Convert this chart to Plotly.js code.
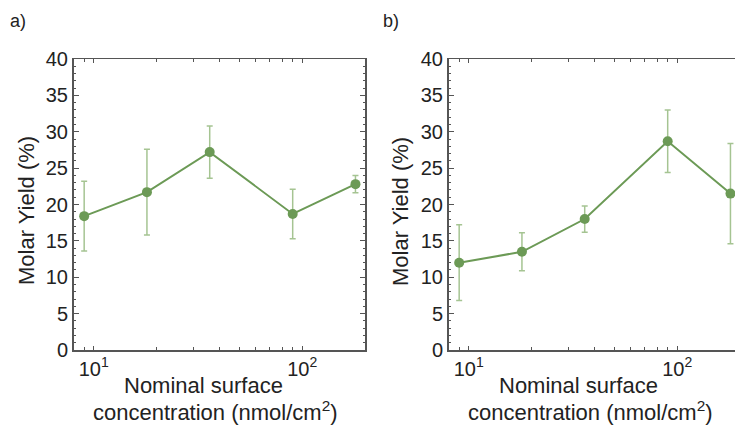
<!DOCTYPE html>
<html>
<head>
<meta charset="utf-8">
<script src="https://cdn.plot.ly/plotly-3.0.1.min.js"></script>
<style>
html, body { margin: 0; padding: 0; overflow: hidden; background: #fff; }
#chart { width: 742px; height: 429px; }
</style>
</head>
<body>
<div id="chart"></div>
<script>
// Data
const concentration = [9, 18, 36, 90, 180];      // nmol/cm^2
const yieldA = [18.4, 21.7, 27.2, 18.7, 22.8];   // panel a, %
const errA   = [4.8, 5.9, 3.6, 3.4, 1.2];
const yieldB = [12.0, 13.5, 18.0, 28.7, 21.5];   // panel b, %
const errB   = [5.2, 2.6, 1.8, 4.3, 6.9];
const xTickVals = [10, 100];
const xTickText = ['10<sup>1</sup>', '10<sup>2</sup>'];
const xMinorVals = [8, 9, 20, 30, 40, 50, 60, 70, 80, 90, 200];
const yTickVals = [0, 5, 10, 15, 20, 25, 30, 35, 40];
const panelLabels = ['a)', 'b)'];
const xTitleLines = ['Nominal surface', 'concentration (nmol/cm<sup>2</sup>)'];
const yTitle = 'Molar Yield (%)';

const lineColor = '#6c9a56';
const errColor = '#a5c492';
const frameColor = '#555555';
const textColor = '#222222';
const font = "'Liberation Sans', Arial, sans-serif";

function trace(y, err, xa, ya) {
  return {
    x: concentration, y: y, xaxis: xa, yaxis: ya,
    type: 'scatter', mode: 'lines+markers',
    line: { color: lineColor, width: 2 },
    marker: { color: lineColor, size: 10 },
    error_y: { type: 'data', array: err, visible: true, color: errColor, thickness: 1.5, width: 3 },
    showlegend: false, hoverinfo: 'skip'
  };
}

function xaxis(domain, anchor) {
  return {
    type: 'log', domain: domain, anchor: anchor,
    range: [Math.log10(8), Math.log10(200)],
    tickmode: 'array', tickvals: xTickVals, ticktext: xTickText,
    ticks: 'inside', ticklen: 4, tickwidth: 1.2, tickcolor: frameColor,
    minor: { tickmode: 'array', tickvals: xMinorVals, ticks: 'inside', ticklen: 3, tickcolor: frameColor, tickwidth: 1, showgrid: false },
    showline: true, linecolor: frameColor, linewidth: 1.5, mirror: 'allticks',
    showgrid: false, zeroline: false,
    tickfont: { family: font, size: 20, color: textColor },
    fixedrange: true
  };
}

function yaxis(domain, anchor) {
  return {
    domain: domain, anchor: anchor,
    range: [0, 40],
    tickmode: 'array', tickvals: yTickVals,
    ticks: 'inside', ticklen: 5, tickwidth: 1.2, tickcolor: frameColor,
    minor: { dtick: 1, ticks: 'inside', ticklen: 2.5, tickcolor: frameColor, tickwidth: 1, showgrid: false },
    showline: true, linecolor: frameColor, linewidth: 1.5, mirror: 'allticks',
    showgrid: false, zeroline: false,
    tickfont: { family: font, size: 20, color: textColor },
    fixedrange: true
  };
}

const W = 742, H = 429;
const yDom = [(H - 350) / H, (H - 59) / H];

function ann(text, x, y, size, angle) {
  return { text: text, xref: 'paper', yref: 'paper', x: x / W, y: 1 - y / H,
    xanchor: 'center', yanchor: 'middle', showarrow: false, textangle: angle || 0,
    font: { family: font, size: size, color: textColor } };
}

const data = [trace(yieldA, errA, 'x', 'y'), trace(yieldB, errB, 'x2', 'y2')];
const layout = {
  width: W, height: H,
  margin: { l: 0, r: 0, t: 0, b: 0 },
  paper_bgcolor: '#ffffff', plot_bgcolor: '#ffffff',
  font: { family: font, color: textColor },
  xaxis: xaxis([73.5 / W, 365 / W], 'y'),
  yaxis: yaxis(yDom, 'x'),
  xaxis2: xaxis([448.5 / W, 740 / W], 'y2'),
  yaxis2: yaxis(yDom, 'x2'),
  annotations: [
    ann(panelLabels[0], 18, 21, 18),
    ann(panelLabels[1], 391, 21, 18),
    ann(xTitleLines[0], 203, 385, 22),
    ann(xTitleLines[1], 215, 411, 22),
    ann(xTitleLines[0], 578, 385, 22),
    ann(xTitleLines[1], 590, 411, 22),
    ann(yTitle, 26, 211, 22, -90),
    ann(yTitle, 400, 211, 22, -90)
  ]
};

Plotly.newPlot('chart', data, layout, { staticPlot: true, displayModeBar: false });
</script>
</body>
</html>
